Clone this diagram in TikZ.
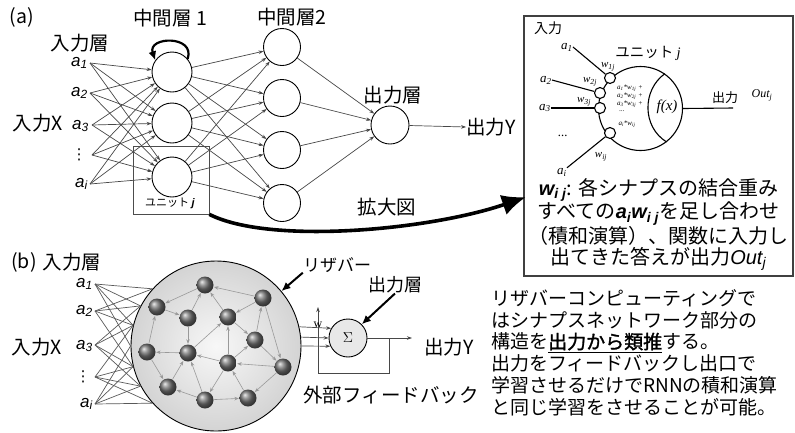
\documentclass[tikz,border=0pt]{standalone}
\usepackage{fontspec}
\setmainfont{Noto Sans CJK JP}
\newfontfamily\cjkb[FakeBold=1.6]{Noto Sans CJK JP}
\newfontfamily\lsans{Liberation Sans}
\newfontfamily\lserif{Liberation Serif}
\newfontfamily\dejavu{DejaVu Sans}
\usetikzlibrary{arrows.meta}
\tikzset{
  lab/.style={font=\fontsize{19.5}{22}\selectfont, inner sep=0pt},
  neuron/.style={circle, draw, line width=0.9pt, fill=white, inner sep=0pt},
  conn/.style={draw=black!72, line width=0.7pt, -{Stealth[length=5pt,width=3.5pt]}},
  alab/.style={font=\fontsize{17}{17}\selectfont\lsans\itshape, inner sep=0pt, anchor=east},
  vdl/.style={font=\fontsize{15}{15}\selectfont\dejavu, inner sep=0pt},
  inl/.style={draw=black!65, line width=0.7pt},
  sphere/.style={circle, minimum size=17pt, inner sep=0pt, shading=ball, ball color=black!55},
  resarr/.style={draw=black!40, line width=0.6pt, -{Stealth[length=4.5pt,width=3.5pt]}, shorten >=0.5pt},
  thickarr/.style={line width=2pt, -{Latex[length=9pt,width=8pt]}},
  syn/.style={circle, draw, line width=1.1pt, fill=white, minimum size=11pt, inner sep=0pt},
  sl/.style={font=\fontsize{13}{13}\selectfont\lserif\itshape, inner sep=0pt},
  wl/.style={font=\fontsize{11}{11}\selectfont\lserif\itshape, inner sep=0pt},
  fl/.style={font=\fontsize{7}{7}\selectfont\lserif\itshape, inner sep=0pt}
}
\begin{document}
\begin{tikzpicture}[x=1pt,y=-1pt]
\useasboundingbox (0,0) rectangle (795,432);
% ---------------- (a) ----------------
\node[lab] (ta) at (22,17) {(a)};
\node[lab] (tin) at (80,43) {入力層};
\node[lab] (tx) at (38,123) {入力X};
\node[lab] (tm1) at (170,18) {中間層 1};
\node[lab] (tm2) at (292,17) {中間層2};
\node[lab] (tout) at (393,95) {出力層};
\node[lab] (ty) at (491,127) {出力Y};
\node[lab] (tk) at (387,207) {拡大図};

\node[alab] (a1) at (88,63) {a\textsubscript{1}};
\node[alab] (a2) at (88,93) {a\textsubscript{2}};
\node[alab] (a3) at (89,126) {a\textsubscript{3}};
\node[vdl] (a4) at (79,155) {⋮};
\node[alab] (a5) at (88,184) {a\textsubscript{i}};
\coordinate (p1) at (90,63);
\coordinate (p2) at (90,93);
\coordinate (p3) at (92,125);
\coordinate (p4) at (92,155);
\coordinate (p5) at (90,184);

\node[neuron, minimum size=40pt] (h1) at (172,72) {};
\node[neuron, minimum size=40pt] (h2) at (172,123) {};
\node[neuron, minimum size=40pt] (h3) at (172,177) {};
\node[neuron, minimum size=37pt] (g1) at (282,47) {};
\node[neuron, minimum size=37pt] (g2) at (282,98) {};
\node[neuron, minimum size=37pt] (g3) at (282,150) {};
\node[neuron, minimum size=37pt] (g4) at (282,203) {};
\node[neuron, minimum size=38pt] (o) at (390,125) {};

\foreach \i in {1,...,5} \foreach \j in {1,2,3} \draw[conn] (p\i) -- (h\j);
\foreach \i in {1,2,3} \foreach \j in {1,...,4} \draw[conn] (h\i) -- (g\j);
\foreach \j in {1,...,4} \draw[conn] (g\j) -- (o);
\draw[conn] (o) -- (ty.west);

\draw[thickarr, line width=2.2pt] (h1.40) .. controls +(8,-24) and +(-8,-24) .. (h1.145);

\node[draw=black!70, line width=0.7pt, minimum width=76pt, minimum height=68pt, inner sep=0pt] (ubox) at (171,180) {};
\node[font=\fontsize{11}{11}\selectfont, inner sep=0pt] (ulab) at (170,203) {ユニット {\lsans\itshape\bfseries j}};

% right box
\node[draw=black!75, line width=2pt, minimum width=269pt, minimum height=260pt, inner sep=0pt] (rbox) at (658.5,146) {};
\coordinate (tip) at (526,197);
\draw[line width=3.6pt, -{Latex[length=24pt,width=21pt]}] (ubox.south east) .. controls (270,245) and (430,230) .. (tip);

\node[font=\fontsize{14}{14}\selectfont, inner sep=0pt] (tin2) at (548,28) {入力};
\node[font=\fontsize{14.5}{14.5}\selectfont, inner sep=0pt] (tunit) at (648,53) {ユニット {\lserif\itshape j}};
\node[circle, draw, line width=1.1pt, minimum size=84pt, inner sep=0pt] (unit) at (640.5,108.5) {};
\draw[line width=1.1pt] (unit.55) .. controls (642,90) and (642,127) .. (unit.-52);
\node[font=\fontsize{15}{15}\selectfont\lserif\itshape, inner sep=0pt] (fx) at (667,107) {f(x)};
\node[syn] (w1) at (610,78) {};
\node[syn] (w2) at (600,93) {};
\node[syn] (w3) at (600,108) {};
\node[syn] (w4) at (610,133) {};
\node[sl] (ra1) at (567,47) {a\textsubscript{1}};
\node[sl] (ra2) at (546,80) {a\textsubscript{2}};
\node[sl] (ra3) at (545,108) {a\textsubscript{3}};
\node[sl] (rai) at (562,172) {a\textsubscript{i}};
\node[sl] (rdots) at (563,136) {...};
\draw[line width=1.1pt] (ra1.east) -- (w1);
\draw[line width=1.1pt] (ra2.east) -- (w2);
\draw[line width=1.1pt] (ra3.east) -- (w3);
\draw[line width=1.1pt] (rai.north east) -- (w4);
\node[wl] (lw1) at (608,67) {w\textsubscript{1j}};
\node[wl] (lw2) at (590,82) {w\textsubscript{2j}};
\node[wl] (lw3) at (584,102) {w\textsubscript{3j}};
\node[wl] (lwi) at (601,157) {w\textsubscript{ij}};
\node[fl] (f1) at (630,88) {a\textsubscript{1}*w\textsubscript{1j} +};
\node[fl] (f2) at (630,96) {a\textsubscript{2}*w\textsubscript{2j} +};
\node[fl] (f3) at (630,104) {a\textsubscript{3}*w\textsubscript{3j} +};
\node[fl] (f4) at (622,111) {...};
\node[fl] (f5) at (627,124) {a\textsubscript{i}*w\textsubscript{ij}};
\coordinate (oend) at (733,108);
\draw[line width=1.1pt] (unit.east) -- (oend);
\node[font=\fontsize{13}{13}\selectfont, inner sep=0pt] (tout2) at (725,98) {出力};
\node[font=\fontsize{12}{12}\selectfont\lserif\itshape, inner sep=0pt] (toutj) at (762,95) {Out\textsubscript{j}};

\node[align=center, font=\fontsize{20}{21.7}\selectfont, inner sep=0pt] (btxt) at (658.5,224.5) {%
{\lsans\itshape\bfseries w\textsubscript{i j}}: 各シナプスの結合重み\\
すべての{\lsans\itshape\bfseries a\textsubscript{i}w\textsubscript{i j}}を足し合わせ\\
（積和演算）、関数に入力し\\
出てきた答えが出力{\lsans\itshape Out\textsubscript{j}}};

% ---------------- (b) ----------------
\node[lab] (tb) at (24,262) {(b)};
\node[lab] (tbin) at (72,262) {入力層};
\node[lab] (tbx) at (37,347) {入力X};
\node[alab] (b1) at (93,284) {a\textsubscript{1}};
\node[alab] (b2) at (93,311) {a\textsubscript{2}};
\node[alab] (b3) at (93,346) {a\textsubscript{3}};
\node[vdl] (b4) at (83,377) {⋮};
\node[alab] (b5) at (93,404) {a\textsubscript{i}};
\coordinate (q1) at (95,284);
\coordinate (q2) at (95,311);
\coordinate (q3) at (95,345);
\coordinate (q4) at (95,377);
\coordinate (q5) at (95,404);

\node[circle, draw, line width=0.9pt, minimum size=170pt, inner sep=0pt, inner color=gray!6, outer color=gray!34] (res) at (216,346) {};
\foreach \i/\a in {1/138,1/152,1/166,1/180,2/138,2/152,2/166,2/194,3/152,3/166,3/194,3/208,4/166,4/194,4/208,4/222,5/180,5/194,5/208,5/222}
  \draw[inl] (q\i) -- (res.\a);

\node[sphere] (s1) at (205,285) {};
\node[sphere] (s2) at (157,307) {};
\node[sphere] (s3) at (188,318) {};
\node[sphere] (s4) at (228,317) {};
\node[sphere] (s5) at (263,298) {};
\node[sphere] (s6) at (255,340) {};
\node[sphere] (s7) at (147,352) {};
\node[sphere] (s8) at (188,353) {};
\node[sphere] (s9) at (228,363) {};
\node[sphere] (s10) at (283,367) {};
\node[sphere] (s11) at (168,387) {};
\node[sphere] (s12) at (205,400) {};
\node[sphere] (s13) at (248,398) {};
\foreach \u/\v in {1/2,2/3,3/1,4/1,5/1,5/4,3/8,8/4,4/6,6/5,5/10,6/10,10/9,9/4,9/6,9/8,8/7,7/2,7/11,11/8,12/11,12/8,12/13,13/9,9/12,10/13}
  \draw[resarr] (s\u) -- (s\v);

\node[font=\fontsize{17}{17}\selectfont, inner sep=0pt] (tres) at (337,265) {リザバー};
\draw[thickarr] (tres.south west) -- (res.40);
\node[circle, draw, line width=0.9pt, fill=gray!18, minimum size=38pt, inner sep=0pt, font=\fontsize{15}{15}\selectfont] (sig) at (348,338) {$\Sigma$};
\node[font=\fontsize{18}{18}\selectfont, inner sep=0pt] (tout3) at (395,285) {出力層};
\draw[thickarr] (tout3.south) -- (sig.45);
\draw[conn] (res.13) -- (sig.150);
\draw[conn] (res.6) -- (sig.180);
\draw[conn] (res.0) -- (sig.205);
\coordinate (yend) at (412,338);
\coordinate (fb1) at (389,338);
\coordinate (fb2) at (318,373);
\coordinate (fbtop) at (318,307);
\draw[conn] (sig.east) -- (yend);
\draw[conn] (fb1) |- (fb2) -- (fbtop);
\node[font=\fontsize{12}{12}\selectfont\lserif, inner sep=0pt] (tw) at (318,325) {w};
\node[lab] (tby) at (449,347) {出力Y};
\node[lab] (tfb) at (391,395) {外部フィードバック};

\node[anchor=west, align=left, font=\fontsize{19}{21.8}\selectfont, inner sep=0pt] (rtxt) at (491,352.5) {%
リザバーコンピューティングで\\
はシナプスネットワーク部分の\\
構造を\underline{\cjkb 出力から類推}する。\\
出力をフィードバックし出口で\\
学習させるだけでRNNの積和演算\\
と同じ学習をさせることが可能。};
\end{tikzpicture}
\end{document}
